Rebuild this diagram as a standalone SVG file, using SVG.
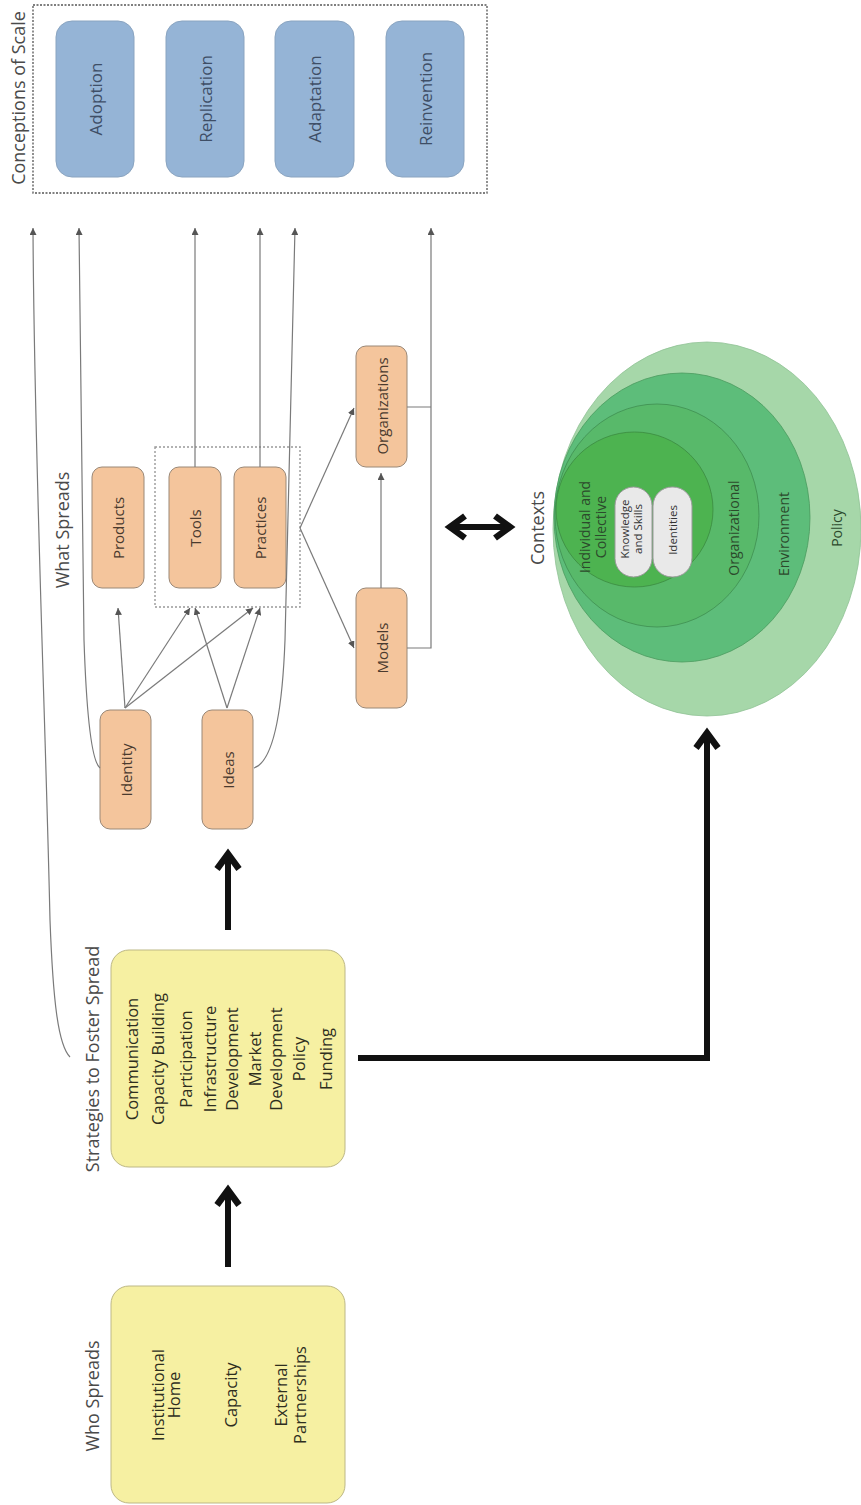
<svg xmlns="http://www.w3.org/2000/svg" width="861" height="1505" viewBox="0 0 861 1505">
<defs>
<style>
text{font-family:"Open Sans","Liberation Sans",sans-serif;text-anchor:middle;dominant-baseline:central}
.hd{font-size:18px;fill:#4a4a4a}
.yb{fill:#f6f0a2;stroke:#bdb886;stroke-width:1}
.yt{font-size:16.5px;fill:#2e2e1e}
.ob{fill:#f4c59c;stroke:#9a8877;stroke-width:1}
.ot{font-size:15px;fill:#4a3a2e}
.bb{fill:#95b4d6;stroke:#8aa4c0;stroke-width:1}
.bt{font-size:17px;fill:#3e4e66}
.gt{font-size:14px;fill:#2c4a2c}
.pt{font-size:11.5px;fill:#333}
.thin{fill:none;stroke:#7a7a7a;stroke-width:1.2}
.big{fill:none;stroke:#111;stroke-width:6}
.chev{fill:none;stroke:#111;stroke-width:6.5;stroke-linejoin:miter;stroke-linecap:butt}
</style>
<marker id="ah" viewBox="0 0 10 10" refX="10" refY="5" markerWidth="7" markerHeight="7" markerUnits="userSpaceOnUse" orient="auto">
<path d="M0,0 L10,5 L0,10 z" fill="#555"/>
</marker>
</defs>
<rect width="861" height="1505" fill="#fff"/>

<!-- Conceptions of Scale -->
<g id="conceptions">
<rect x="33" y="5" width="454" height="188" fill="none" stroke="#555" stroke-width="1.3" stroke-dasharray="2,1.5"/>
<text class="hd" transform="translate(18,98) rotate(-90)">Conceptions of Scale</text>
</g>
<g id="adoption"><rect class="bb" x="56" y="21" width="78" height="156" rx="16"/><text class="bt" transform="translate(95,99) rotate(-90)">Adoption</text></g>
<g id="replication"><rect class="bb" x="166" y="21" width="78" height="156" rx="16"/><text class="bt" transform="translate(205,99) rotate(-90)">Replication</text></g>
<g id="adaptation"><rect class="bb" x="275" y="21" width="79" height="156" rx="16"/><text class="bt" transform="translate(314.5,99) rotate(-90)">Adaptation</text></g>
<g id="reinvention"><rect class="bb" x="386" y="21" width="78" height="156" rx="16"/><text class="bt" transform="translate(425,99) rotate(-90)">Reinvention</text></g>

<!-- What Spreads -->
<g id="what-spreads">
<text class="hd" transform="translate(62,530) rotate(-90)">What Spreads</text>
<rect x="155" y="447" width="145" height="160" fill="none" stroke="#999" stroke-width="1.4" stroke-dasharray="2,2"/>
</g>
<g id="products"><rect class="ob" x="92" y="467" width="52" height="121" rx="10"/><text class="ot" transform="translate(118,528) rotate(-90)">Products</text></g>
<g id="tools"><rect class="ob" x="169" y="467" width="52" height="121" rx="10"/><text class="ot" transform="translate(195,528) rotate(-90)">Tools</text></g>
<g id="practices"><rect class="ob" x="234" y="467" width="52" height="121" rx="10"/><text class="ot" transform="translate(260,528) rotate(-90)">Practices</text></g>
<g id="organizations"><rect class="ob" x="356" y="346" width="51" height="121" rx="10"/><text class="ot" transform="translate(381.5,406) rotate(-90)">Organizations</text></g>
<g id="models"><rect class="ob" x="356" y="588" width="51" height="120" rx="10"/><text class="ot" transform="translate(381.5,648) rotate(-90)">Models</text></g>
<g id="identity"><rect class="ob" x="100" y="710" width="51" height="119" rx="10"/><text class="ot" transform="translate(125.5,770) rotate(-90)">Identity</text></g>
<g id="ideas"><rect class="ob" x="202" y="710" width="51" height="119" rx="10"/><text class="ot" transform="translate(227.5,770) rotate(-90)">Ideas</text></g>

<!-- Strategies -->
<g id="strategies">
<text class="hd" transform="translate(92,1059) rotate(-90)">Strategies to Foster Spread</text>
<rect class="yb" x="111" y="950" width="234" height="217" rx="18"/>
<text class="yt" transform="translate(131,1059) rotate(-90)">Communication</text>
<text class="yt" transform="translate(157,1059) rotate(-90)">Capacity Building</text>
<text class="yt" transform="translate(185,1059) rotate(-90)">Participation</text>
<text class="yt" transform="translate(209,1059) rotate(-90)">Infrastructure</text>
<text class="yt" transform="translate(231,1059) rotate(-90)">Development</text>
<text class="yt" transform="translate(254,1059) rotate(-90)">Market</text>
<text class="yt" transform="translate(275,1059) rotate(-90)">Development</text>
<text class="yt" transform="translate(298,1059) rotate(-90)">Policy</text>
<text class="yt" transform="translate(325,1059) rotate(-90)">Funding</text>
</g>

<!-- Who Spreads -->
<g id="who-spreads">
<text class="hd" transform="translate(92,1396) rotate(-90)">Who Spreads</text>
<rect class="yb" x="111" y="1286" width="234" height="217" rx="18"/>
<text class="yt" transform="translate(157,1395) rotate(-90)">Institutional</text>
<text class="yt" transform="translate(173,1395) rotate(-90)">Home</text>
<text class="yt" transform="translate(230,1395) rotate(-90)">Capacity</text>
<text class="yt" transform="translate(280,1395) rotate(-90)">External</text>
<text class="yt" transform="translate(299,1395) rotate(-90)">Partnerships</text>
</g>

<!-- Contexts -->
<g id="contexts">
<text class="hd" transform="translate(537,528) rotate(-90)">Contexts</text>
<ellipse cx="707" cy="529" rx="154" ry="187" fill="#a6d7a9" stroke="#8fc294" stroke-width="0.8"/>
<ellipse cx="682" cy="517.5" rx="128" ry="144.5" fill="#5dbd7a" stroke="#4a9a5e" stroke-width="0.8"/>
<ellipse cx="657" cy="515.5" rx="102" ry="111.5" fill="#58b96a" stroke="#3f8e50" stroke-width="0.8"/>
<ellipse cx="634.5" cy="509.5" rx="78.5" ry="77.5" fill="#4db350" stroke="#3b8a40" stroke-width="0.8"/>
<text class="gt" transform="translate(584,527) rotate(-90)">Individual and</text>
<text class="gt" transform="translate(600,527) rotate(-90)">Collective</text>
<rect x="615" y="487" width="37" height="90" rx="18.5" fill="#e9e9e9" stroke="#999" stroke-width="1"/>
<rect x="653" y="487" width="39" height="90" rx="19" fill="#e9e9e9" stroke="#999" stroke-width="1"/>
<text class="pt" transform="translate(624,529) rotate(-90)">Knowledge</text>
<text class="pt" transform="translate(637,529) rotate(-90)">and Skills</text>
<text class="pt" transform="translate(672,530) rotate(-90)">Identities</text>
<text class="gt" transform="translate(733,528) rotate(-90)">Organizational</text>
<text class="gt" transform="translate(783,534) rotate(-90)">Environment</text>
<text class="gt" transform="translate(836,528) rotate(-90)">Policy</text>
</g>

<!-- Connectors -->
<g id="connectors">
<path class="thin" d="M70,1057 C58,1045 53,1000 50,920 C45,700 34,450 33,228" marker-end="url(#ah)"/>
<path class="thin" d="M100,768 C90,760 86,700 84,640 L79,228" marker-end="url(#ah)"/>
<path class="thin" d="M254,768 C272,762 282,720 285,640 L295,228" marker-end="url(#ah)"/>
<path class="thin" d="M195,467 L195,228" marker-end="url(#ah)"/>
<path class="thin" d="M260,467 L260,228" marker-end="url(#ah)"/>
<path class="thin" d="M407,407 L431,407 M407,648 L431,648 L431,228" marker-end="url(#ah)"/>
<path class="thin" d="M125,708 L118,608" marker-end="url(#ah)"/>
<path class="thin" d="M125,708 L190,608" marker-end="url(#ah)"/>
<path class="thin" d="M125,708 L253,608" marker-end="url(#ah)"/>
<path class="thin" d="M227,708 L195,608" marker-end="url(#ah)"/>
<path class="thin" d="M227,708 L260,608" marker-end="url(#ah)"/>
<path class="thin" d="M300,528 L354,408" marker-end="url(#ah)"/>
<path class="thin" d="M300,528 L354,648" marker-end="url(#ah)"/>
<path class="thin" d="M381,588 L381,473" marker-end="url(#ah)"/>

<path class="big" d="M228,1267 L228,1190"/>
<path class="chev" d="M217,1205 L228,1190 L239,1205"/>
<path class="big" d="M228,930 L228,854"/>
<path class="chev" d="M217,869 L228,854 L239,869"/>
<path class="big" d="M358,1058 L707,1058 L707,733"/>
<path class="chev" d="M696,748 L707,733 L718,748"/>
<path class="big" d="M450,527 L510,527"/>
<path class="chev" d="M465,516 L450,527 L465,538"/>
<path class="chev" d="M495,516 L510,527 L495,538"/>
</g>
</svg>
